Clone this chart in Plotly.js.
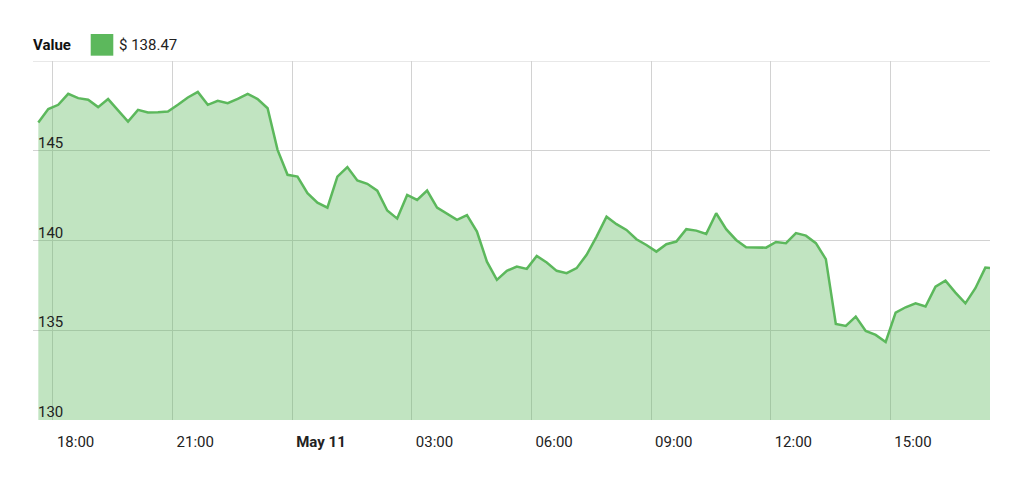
<!DOCTYPE html>
<html>
<head>
<meta charset="utf-8">
<script src="https://cdn.plot.ly/plotly-3.0.1.min.js"></script>
<style>html,body{margin:0;padding:0;background:#fff;}#chart{width:1024px;height:481px;}</style>
</head>
<body>
<div id="chart"></div>
<script>
// Sampling: one value every 15 minutes starting May 10 17:38, plus the latest quote
const startTime = '2018-05-10T17:38:00Z';
const stepMinutes = 15;
const values = [
  146.57, 147.32, 147.56, 148.17, 147.93, 147.84, 147.43, 147.88, 147.25, 146.63,
  147.28, 147.13, 147.15, 147.19, 147.56, 147.97, 148.28, 147.56, 147.78, 147.65,
  147.89, 148.17, 147.88, 147.37, 145.05, 143.66, 143.56, 142.64, 142.11, 141.83,
  143.56, 144.09, 143.34, 143.16, 142.78, 141.67, 141.22, 142.54, 142.26, 142.78,
  141.83, 141.48, 141.15, 141.41, 140.50, 138.82, 137.81, 138.31, 138.55, 138.42,
  139.14, 138.77, 138.31, 138.18, 138.46, 139.20, 140.22, 141.33, 140.91, 140.59,
  140.07, 139.75, 139.38, 139.79, 139.94, 140.63, 140.55, 140.37, 141.52, 140.63,
  140.03, 139.63, 139.60, 139.60, 139.92, 139.85, 140.41, 140.27, 139.85, 138.96,
  135.35, 135.24, 135.76, 134.96, 134.74, 134.35, 135.98, 136.28, 136.50, 136.32,
  137.43, 137.76, 137.10, 136.50, 137.34, 138.49
];
const lastTime = '2018-05-11 17:30:00';
const lastValue = 138.47;

const tickVals = ['2018-05-10 18:00', '2018-05-10 21:00', '2018-05-11 00:00', '2018-05-11 03:00',
                  '2018-05-11 06:00', '2018-05-11 09:00', '2018-05-11 12:00', '2018-05-11 15:00'];
const tickText = ['18:00', '21:00', '<b>May 11</b>', '03:00', '06:00', '09:00', '12:00', '15:00'];
const yTickVals = [130, 135, 140, 145, 150];
const yTickText = ['130', '135', '140', '145', ''];
const xRange = ['2018-05-10 17:30', '2018-05-11 17:30'];
const yRange = [130, 150];
const seriesName = 'Value';
const legendLabel = '$ 138.47';

function fmt(d) {
  return d.toISOString().slice(0, 19).replace('T', ' ');
}
const t0 = new Date(startTime).getTime();
const times = values.map((v, i) => fmt(new Date(t0 + i * stepMinutes * 60000)));
times.push(lastTime);
const allValues = values.concat([lastValue]);

const green = '#5cb85c';
const gridColor = '#d2d2d2';
const fontFam = 'Roboto, "Liberation Sans", Arial, sans-serif';

const trace = {
  x: times,
  y: allValues,
  type: 'scatter',
  mode: 'lines',
  fill: 'tozeroy',
  fillcolor: 'rgba(92,184,92,0.38)',
  line: {color: green, width: 2.5},
  name: seriesName,
  hoverinfo: 'skip'
};

// y tick labels drawn inside the plot, just above their grid lines
const yLabelAnnotations = yTickVals.map((v, i) => ({
  text: yTickText[i], xref: 'paper', yref: 'y', x: 0, y: v,
  xanchor: 'left', yanchor: 'middle', xshift: 3, yshift: 8,
  showarrow: false, font: {family: fontFam, size: 15, color: '#222'}
})).filter(a => a.text !== '');

const layout = {
  width: 1024,
  height: 481,
  margin: {l: 33, r: 34, t: 61, b: 61},
  paper_bgcolor: '#fff',
  plot_bgcolor: '#fff',
  showlegend: false,
  font: {family: fontFam, size: 15, color: '#222'},
  xaxis: {
    type: 'date',
    range: xRange,
    tickvals: tickVals,
    ticktext: tickText,
    ticks: '',
    ticklabelposition: 'outside right',
    ticklabelshift: 4,
    ticklabelstandoff: 11,
    showgrid: true,
    gridcolor: gridColor,
    gridwidth: 1,
    zeroline: false,
    showline: false,
    tickfont: {family: fontFam, size: 15, color: '#222'}
  },
  yaxis: {
    range: yRange,
    tickvals: yTickVals,
    showticklabels: false,
    ticks: '',
    showgrid: true,
    gridcolor: gridColor,
    gridwidth: 1,
    zeroline: false,
    showline: false
  },
  shapes: [
    {type: 'rect', xref: 'paper', yref: 'paper',
     x0: 0.0603, x1: 0.0839, y0: 1.0148, y1: 1.0752,
     fillcolor: green, line: {width: 0}},
    {type: 'line', xref: 'paper', yref: 'y', x0: 0, x1: 1, y0: yRange[1], y1: yRange[1],
     line: {color: gridColor, width: 1}}
  ],
  annotations: [
    {text: '<b>' + seriesName + '</b>', xref: 'paper', yref: 'paper', x: 0, y: 1.0446,
     xanchor: 'left', yanchor: 'middle', xshift: -2, showarrow: false,
     font: {family: fontFam, size: 15, color: '#111'}},
    {text: legendLabel, xref: 'paper', yref: 'paper', x: 0.0899, y: 1.0446,
     xanchor: 'left', yanchor: 'middle', xshift: -2, showarrow: false,
     font: {family: fontFam, size: 15, color: '#222'}}
  ].concat(yLabelAnnotations)
};

Plotly.newPlot('chart', [trace], layout, {displayModeBar: false, staticPlot: true});
</script>
</body>
</html>
